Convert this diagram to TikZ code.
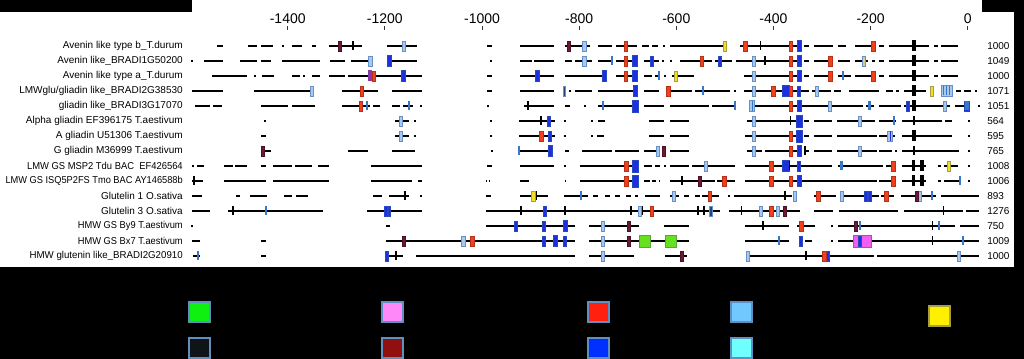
\documentclass[tikz,border=0pt]{standalone}
\usepackage{fontspec}
\setmainfont{Liberation Sans}
\definecolor{mkred}{HTML}{F0401C}
\definecolor{mkredd}{HTML}{B83018}
\definecolor{mkblue}{HTML}{1C30E0}
\definecolor{mkblued}{HTML}{2848C0}
\definecolor{mklb}{HTML}{A8C8EC}
\definecolor{mklbd}{HTML}{6890C8}
\definecolor{mksteel}{HTML}{3878C8}
\definecolor{mkmaroon}{HTML}{6C1838}
\definecolor{mkyellow}{HTML}{F0E020}
\definecolor{mkyellowd}{HTML}{A8A040}
\definecolor{mkpurple}{HTML}{8838A8}
\definecolor{mkgreen}{HTML}{66E020}
\definecolor{mkgreend}{HTML}{58A838}
\definecolor{mkpink}{HTML}{F060F0}
\definecolor{mkpinkd}{HTML}{C040C0}
\definecolor{lgoutline}{HTML}{6090C0}
\definecolor{lg1}{HTML}{10F010}\definecolor{lg2}{HTML}{FF88F8}\definecolor{lg3}{HTML}{FF2010}
\definecolor{lg4}{HTML}{70C8FF}\definecolor{lg5}{HTML}{FFF000}\definecolor{lg6}{HTML}{101418}
\definecolor{lg7}{HTML}{901010}\definecolor{lg8}{HTML}{0030FF}\definecolor{lg9}{HTML}{70FFFF}
\tikzset{
  segline/.style={line width=1.45pt, black},
  mred/.style={fill=mkred, draw=mkredd, line width=0.35pt},
  mblue/.style={fill=mkblue, draw=mkblued, line width=0.35pt},
  mlblue/.style={fill=mklb, draw=mklbd, line width=0.45pt},
  msteel/.style={fill=mksteel},
  mblack/.style={fill=black},
  mmaroon/.style={fill=mkmaroon, draw=mkmaroon!70!black, line width=0.3pt},
  myellow/.style={fill=mkyellow, draw=mkyellowd, line width=0.4pt},
  mpurple/.style={fill=mkpurple},
  mgreen/.style={fill=mkgreen, draw=mkgreend, line width=0.4pt},
  mpink/.style={fill=mkpink, draw=mkpinkd, line width=0.4pt},
  msk/.style={fill=mksteel!60!black, draw=mklbd, line width=0.4pt},
  lab/.style={font=\fontsize{7.5}{8}\selectfont, inner sep=0pt},
  axl/.style={font=\fontsize{10.5}{12}\selectfont, inner sep=0pt},
  tickmark/.style={line width=0.6pt, black!80},
  legsq/.style={draw=lgoutline, line width=0.8pt}
}
\newcommand\mk[5]{\foreach \xx in {#5}{\path[#1] ({\xx-#2/2},{#4-#3/2}) rectangle ({\xx+#2/2},{#4+#3/2});}}
\newcommand\mkR[2]{\mk{mred}{3.5}{10}{#1}{#2}}
\newcommand\mkB[2]{\mk{mblue}{4.5}{11}{#1}{#2}}
\newcommand\mkBB[2]{\mk{mblue}{6}{12}{#1}{#2}}
\newcommand\mkb[2]{\mk{mblue}{2.6}{10}{#1}{#2}}
\newcommand\mkL[2]{\mk{mlblue}{3.5}{10}{#1}{#2}}
\newcommand\mkS[2]{\mk{msteel}{2.2}{9}{#1}{#2}}
\newcommand\mkK[2]{\mk{mblack}{1.8}{9}{#1}{#2}}
\newcommand\mkKK[2]{\mk{mblack}{3.6}{11}{#1}{#2}}
\newcommand\mkM[2]{\mk{mmaroon}{3}{10}{#1}{#2}}
\newcommand\mkY[2]{\mk{myellow}{3.5}{10}{#1}{#2}}
\newcommand\mkV[2]{\mk{mpurple}{4}{11}{#1}{#2}}
\newcommand\sgs[2]{\foreach \ssa/\ssb in {#2}{\draw[segline] (\ssa,#1) -- (\ssb,#1);}}
\newcommand\nx[2]{\scalebox{#1}[1]{#2}}
\begin{document}
\begin{tikzpicture}[x=0.75pt,y=-0.75pt]
\useasboundingbox (0,0) rectangle (1024,359);
\fill[black] (0,0) rectangle (1024,359);
\fill[white] (0,12) rectangle (1014,267);
\fill[white] (192,0) rectangle (982,12);

% axis
\foreach \v/\nm in {-1400/a1,-1200/a2,-1000/a3,-800/a4,-600/a5,-400/a6,-200/a7,0/a8}{
  \node[axl] (\nm) at ({967.7+0.4857*\v},19) {\v};
  \draw[tickmark] ({967.7+0.4857*\v},26) -- ({967.7+0.4857*\v},30);
}

% labels
\node[lab, anchor=east] (l1) at (183,46) {Avenin like type b\_T.durum};
\node[lab, anchor=east] (l2) at (183,61) {Avenin like\_BRADI1G50200};
\node[lab, anchor=east] (l3) at (183,76) {Avenin like type a\_T.durum};
\node[lab, anchor=east] (l4) at (183,91) {LMWglu/gliadin like\_BRADI2G38530};
\node[lab, anchor=east] (l5) at (183,106) {gliadin like\_BRADI3G17070};
\node[lab, anchor=east] (l6) at (183,121) {Alpha gliadin EF396175 T.aestivum};
\node[lab, anchor=east] (l7) at (183,136) {A gliadin U51306 T.aestivum};
\node[lab, anchor=east] (l8) at (183,151) {G gliadin M36999 T.aestivum};
\node[lab, anchor=east] (l9) at (183,166) {\nx{0.94}{LMW GS MSP2 Tdu BAC\ \ EF426564}};
\node[lab, anchor=east] (l10) at (183,181) {\nx{0.925}{LMW GS ISQ5P2FS Tmo BAC AY146588b}};
\node[lab, anchor=east] (l11) at (183,196) {Glutelin 1 O.sativa};
\node[lab, anchor=east] (l12) at (183,211) {Glutelin 3 O.sativa};
\node[lab, anchor=east] (l13) at (183,226) {\nx{0.93}{HMW GS By9 T.aestivum}};
\node[lab, anchor=east] (l14) at (183,241) {\nx{0.93}{HMW GS Bx7 T.aestivum}};
\node[lab, anchor=east] (l15) at (183,256) {\nx{0.97}{HMW glutenin like\_BRADI2G20910}};

\foreach \yy/\nn/\nm in {46/1000/n1,61/1049/n2,76/1000/n3,91/1071/n4,106/1051/n5,121/564/n6,136/595/n7,151/765/n8,166/1008/n9,181/1006/n10,196/893/n11,211/1276/n12,226/750/n13,241/1009/n14,256/1000/n15}{
  \node[lab, anchor=west] (\nm) at (987,\yy) {\nn};
}

% Row 1
\sgs{46}{216.7/223,248/257,261/273,282/284,292/302,312/316,329/362,387/417,487/492,520/554,565/590,598/612,616/637,642/649,652/658,663/665,670/725,740/800,804/809,814/833,838/846,855/874,879/884,889/929,934/938,941/958}
\mkM{46}{340,568.7}\mkK{46}{352.7,760.5}\mkL{46}{404,584.5}\mkR{46}{625.5,745,790.5,873}\mkY{46}{725}\mkB{46}{799}\mkKK{46}{914}

% Row 2
\sgs{61}{191/193,204/223,240/257,261/271,282/320,330/345,351/372,387/417,490/492,520/532,534/554,565/572,575/592,598/612,616/637,644/659,662/664,670/672,680/712,715/732,736/800,804/809,814/833,838/850,855/868,872/875,879/884,889/929,934/938,941/958}
\mkL{61}{370.3,584.5,754}\mkB{61}{389,634.7,799}\mkS{61}{612}\mkR{61}{625.5,701.5,790.5,830}\mkb{61}{652,719.5}\mkK{61}{765}
\path[fill=yellow!45!mklb, draw=mklbd, line width=0.45pt] (862,56) rectangle (865.5,66);
\mkKK{61}{914}

% Row 3
\sgs{76}{212/247,254/256,262/274,292/300,303/305,312/320,329/345,348/422,487/492,520/554,565/607,616/637,644/652,655/660,664/666,672/694,744/800,804/809,814/833,838/851,855/874,879/884,889/929,934/938,941/958}
\mkV{76}{370}\mkR{76}{373.5,625.5,790.5,830,873}\mkB{76}{403.3,537,604,634.7,799}\mkS{76}{659,843}\mkY{76}{676}\mkL{76}{754}\mkKK{76}{914}

% Row 4
\sgs{91}{192/223,254/313,342/378,392/422,487/492,520/554,564/566,569/571,575/592,598/635,644/659,670/692,695/730,734/736,744/809,812/831,834/841,849/879,886/893,896/899,904/926,956/961,964/971,975/977}
\mkL{91}{311.7,754,817}\mkR{91}{361.7,668,773}\mk{msk}{2.4}{10}{91}{564}\mkB{91}{635}\mkS{91}{703}
\mk{mblue}{7}{11}{91}{785.5}\mkR{91}{790.5}\mkb{91}{799}\mkKK{91}{914}\mkY{91}{932}
\mk{mlblue}{11}{11}{91}{946.5}
\foreach \xx in {943.5,946.5,949.5}{\draw[mksteel, line width=0.5pt] (\xx,86.5) -- (\xx,95.5);}

% Row 5
\sgs{106}{195/210,213/222,261/288,292/315,342/370,373/380,392/400,403/413,420/422,487/489,524/554,565/570,584/586,598/636,644/664,670/709,712/735,750/863,866/874,879/901,904/950,955/970,978/980}
\mkR{106}{360.7,790.5}\mkS{106}{366.7,409,603,735,869.5}\mkK{106}{528}\mkBB{106}{635}\mkB{106}{799}
\mk{mlblue}{5}{11}{106}{752}\draw[mksteel, line width=0.4pt] (752,101) -- (752,111);
\mkL{106}{830,945}\mkb{106}{908}\mkKK{106}{914}\mk{mblue}{5}{10}{106}{967}\path[fill=mksteel] (965,101.5) rectangle (969,110.5);

% Row 6
\sgs{121}{264/266,395/409,414/416,490/492,519/555,564/566,591/593,598/605,649/664,670/689,747/800,804/809,814/832,837/875,879/896,902/942,945/952,968/970}
\mkL{121}{401,754,860}\mkK{121}{541,790.5,914}\mkb{121}{549}\mkBB{121}{799}\mkS{121}{894}

% Row 7
\sgs{136}{261/266,395/409,414/416,490/492,519/555,564/566,591/593,597/604,649/664,670/689,745/800,804/809,814/832,837/877,879/895,902/952,968/970}
\mkL{136}{401,754}\mkR{136}{541,790.5}\mkb{136}{550}\mkBB{136}{799}
\mk{mlblue}{5.5}{10}{136}{890}\draw[mkblue, line width=0.6pt] (890,131) -- (890,141);
\mkKK{136}{914}

% Row 8
\sgs{151}{263/271,348/368,392/415,491/493,519/550,565/569,582/612,615/639,644/659,670/689,747/762,765/800,804/809,814/832,837/877,879/892,895/897,902/959,968/970}
\mkM{151}{263,664}\mkS{151}{519}\mkB{151}{550,799}\mkL{151}{658,754,860}\mkR{151}{790.5}\mkK{151}{805,914}

% Row 9
\sgs{166}{192/194,197/204,224/233,235/247,261/266,273/292,295/312,318/329,371/422,487/492,520/554,564/566,580/639,644/652,655/660,664/666,670/689,692/735,745/832,838/883,886/894,902/926,938/941,944/958,968/970}
\mkR{166}{626,771,893}\mkBB{166}{635}\mkL{166}{706}\mk{mblue}{7}{11}{166}{785.5}\mkK{166}{789.5}\mkb{166}{799}\mkS{166}{841.5}\mkKK{166}{913.5,922}\mkY{166}{949}

% Row 10
\sgs{181}{192/203,224/266,273/329,371/412,418/422,486/487,489/490,520/529,565/566,580/639,644/650,652/656,659/660,670/715,717/735,745/877,879/894,902/926,938/941,944/960,968/970}
\mkK{181}{194,682}\mkR{181}{626,724,771,790.5,893}\mkBB{181}{635}\mkM{181}{700}\mkB{181}{799}\mkKK{181}{913.5,922}\mkS{181}{960}

% Row 11
\sgs{196}{192/202,236/240,250/267,284/292,296/308,373/382,389/409,420/422,486/491,520/548,564/588,593/598,605/610,615/620,626/631,635/638,645/660,670/679,684/689,695/700,702/719,728/730,734/792,814/836,842/879,881/894,901/918,921/936,941/979}
\mkK{196}{405,785}\mkY{196}{533.5}\mkK{196}{536.5}\mkS{196}{581,932}\mkL{196}{674,795,842,919.5}\mkR{196}{709.5,818,886}\mkb{196}{866,869.5}\mkM{196}{917}

% Row 12
\sgs{211}{192/210,228/323,367/422,486/720,729/800,814/833,839/898,904/963,966/979}
\mkK{211}{233.3,521,565,631,642.5,698,704,741.5,943.5}\mkS{211}{265.7}\mkb{211}{386,389.3,545}\mkL{211}{640,761,778}\mkR{211}{651.5,771}\mkM{211}{785}\mk{msk}{3}{10}{211}{711}

% Row 13
\sgs{226}{191/193,386/390,486/575,589/639,664/689,745/789,797/815,831/833,838/955,960/979}
\mkb{226}{516,544}\mkB{226}{565}\mkL{226}{603}\mkM{226}{629,856}\mkK{226}{763,932.5}\mkR{226}{801}\mkS{226}{860,939}

% Row 14
\sgs{241}{192/200,261/266,386/575,589/689,745/789,805/812,831/833,838/979}
\mkM{241}{403.5,629}\mkL{241}{463.5,603}\mkR{241}{472}\mkb{241}{544,565,801}\mkB{241}{555}
\mk{mgreen}{11}{12}{241}{644.5,670.5}\mkS{241}{779,963}
\path[mpink] (853,235) rectangle (871,247);\mkb{241}{860}\mkK{241}{932.5}

% Row 15
\sgs{256}{193/200,261/266,387/403,416/575,589/634,665/687,748/874,877/979}
\mkS{256}{197.7}\mkb{256}{387,827.5}\mkK{256}{396,806}\mkL{256}{603,748,959}\mkM{256}{682}\mkR{256}{824}

% legend
\foreach \xa/\ya/\cc in {189/302/lg1,382/302/lg2,588/302/lg3,731/302/lg4,189/338/lg6,382/338/lg7,588/338/lg8,731/338/lg9}{
  \path[legsq, fill=\cc] (\xa,\ya) rectangle ({\xa+21},{\ya+20});
}
\path[legsq, draw=mkyellowd, fill=lg5] (929,306) rectangle (950,326);
\end{tikzpicture}
\end{document}
